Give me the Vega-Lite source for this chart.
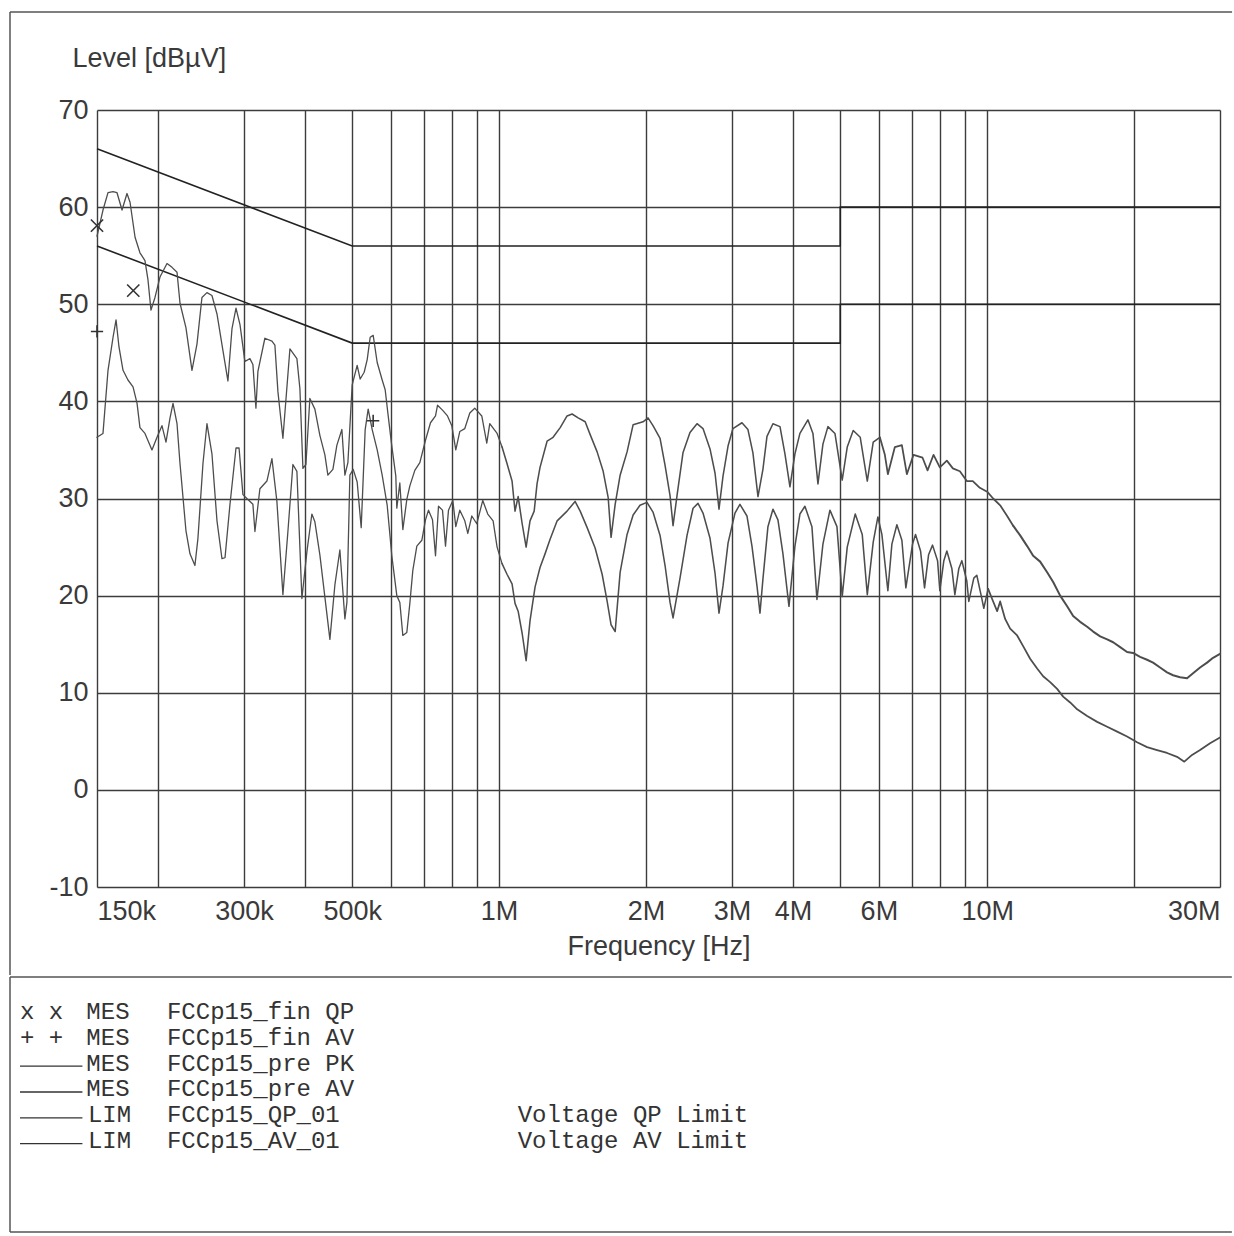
{
"$schema": "https://vega.github.io/schema/vega-lite/v6.json",
"padding": {"left": 9, "top": 11, "right": 0, "bottom": 0},
"spacing": 0,
"config": {"view": {"stroke": null}, "font": "Liberation Sans"},
"datasets": {
"pk": [
{"f":150,"v":57.0,"s":"a"},{"f":154.3,"v":59.7,"s":"a"},{"f":158,"v":61.5,"s":"a"},{"f":161.8,"v":61.6,"s":"a"},{"f":164.8,"v":61.5,"s":"a"},{"f":168.8,"v":59.7,"s":"a"},{"f":172.8,"v":61.4,"s":"a"},{"f":175.3,"v":60.5,"s":"a"},{"f":179.5,"v":56.9,"s":"a"},{"f":183.7,"v":55.3,"s":"a"},{"f":188.1,"v":54.5,"s":"a"},{"f":190.8,"v":52.5,"s":"a"},{"f":193.5,"v":49.4,"s":"a"},{"f":197.2,"v":50.7,"s":"a"},{"f":201.9,"v":52.8,"s":"a"},{"f":208.7,"v":54.2,"s":"a"},{"f":213.7,"v":53.8,"s":"a"},{"f":218.8,"v":53.3,"s":"a"},{"f":221.9,"v":50.1,"s":"a"},{"f":228.2,"v":47.6,"s":"a"},{"f":234.8,"v":43.2,"s":"a"},{"f":240.4,"v":45.9,"s":"a"},{"f":246.1,"v":50.7,"s":"a"},{"f":252,"v":51.2,"s":"a"},{"f":258,"v":50.9,"s":"a"},{"f":264.2,"v":49.0,"s":"a"},{"f":271.8,"v":45.2,"s":"a"},{"f":278.2,"v":42.1,"s":"a"},{"f":283.6,"v":47.5,"s":"a"},{"f":289,"v":49.6,"s":"a"},{"f":294.5,"v":47.9,"s":"a"},{"f":301.4,"v":44.1,"s":"a"},{"f":308.6,"v":44.4,"s":"a"},{"f":313,"v":43.8,"s":"a"},{"f":317.5,"v":39.3,"s":"a"},{"f":320.5,"v":43.1,"s":"a"},{"f":331.2,"v":46.5,"s":"a"},{"f":342.4,"v":46.2,"s":"a"},{"f":347.2,"v":45.8,"s":"a"},{"f":352.2,"v":41.0,"s":"a"},{"f":360.6,"v":36.2,"s":"a"},{"f":372.7,"v":45.4,"s":"a"},{"f":385.2,"v":44.4,"s":"a"},{"f":390.7,"v":41.3,"s":"a"},{"f":396.3,"v":33.1,"s":"a"},{"f":401.9,"v":33.5,"s":"a"},{"f":409.5,"v":40.3,"s":"a"},{"f":419.3,"v":39.2,"s":"a"},{"f":429.3,"v":36.5,"s":"a"},{"f":439.6,"v":34.5,"s":"a"},{"f":445.8,"v":32.4,"s":"a"},{"f":456.5,"v":33.0,"s":"a"},{"f":465.2,"v":35.5,"s":"a"},{"f":476.3,"v":37.1,"s":"a"},{"f":483.1,"v":32.4,"s":"a"},{"f":490,"v":33.7,"s":"a"},{"f":500,"v":41.7,"s":"a"},{"f":511.9,"v":43.7,"s":"a"},{"f":519.2,"v":42.3,"s":"a"},{"f":529.1,"v":43.0,"s":"a"},{"f":536.7,"v":44.3,"s":"a"},{"f":544.3,"v":46.6,"s":"a"},{"f":552.1,"v":46.8,"s":"a"},{"f":562.6,"v":44.0,"s":"a"},{"f":576,"v":42.2,"s":"a"},{"f":584.2,"v":41.2,"s":"a"},{"f":592.6,"v":38.5,"s":"a"},{"f":602.8,"v":35.4,"s":"a"},{"f":614.3,"v":32.3,"s":"a"},{"f":617.2,"v":29.0,"s":"a"},{"f":626,"v":31.6,"s":"a"},{"f":635,"v":26.8,"s":"a"},{"f":647,"v":29.9,"s":"a"},{"f":656.3,"v":31.3,"s":"a"},{"f":671.9,"v":32.9,"s":"a"},{"f":688,"v":33.7,"s":"a"},{"f":706.6,"v":36.0,"s":"a"},{"f":723.5,"v":37.8,"s":"a"},{"f":740.8,"v":38.5,"s":"a"},{"f":747.8,"v":39.6,"s":"a"},{"f":765.6,"v":39.1,"s":"a"},{"f":783.9,"v":38.5,"s":"a"},{"f":800,"v":37.5,"s":"a"},{"f":815.2,"v":35.0,"s":"a"},{"f":830.8,"v":36.9,"s":"a"},{"f":850.6,"v":37.2,"s":"a"},{"f":870.9,"v":38.8,"s":"a"},{"f":891.5,"v":39.3,"s":"a"},{"f":921.5,"v":38.5,"s":"a"},{"f":943.5,"v":35.7,"s":"a"},{"f":956.9,"v":37.7,"s":"a"},{"f":990.6,"v":36.7,"s":"a"},{"f":1014,"v":35.3,"s":"a"},
{"f":1014,"v":35.3,"s":"b"},{"f":1038,"v":33.6,"s":"b"},{"f":1063,"v":31.8,"s":"b"},{"f":1078,"v":28.7,"s":"b"},{"f":1094,"v":30.2,"s":"b"},{"f":1115,"v":27.4,"s":"b"},{"f":1136,"v":25.0,"s":"b"},{"f":1157,"v":27.7,"s":"b"},{"f":1180,"v":28.7,"s":"b"},{"f":1196,"v":31.5,"s":"b"},{"f":1213,"v":33.2,"s":"b"},{"f":1254,"v":35.9,"s":"b"},{"f":1290,"v":36.3,"s":"b"},{"f":1334,"v":37.3,"s":"b"},{"f":1378,"v":38.5,"s":"b"},{"f":1411,"v":38.7,"s":"b"},{"f":1452,"v":38.3,"s":"b"},{"f":1501,"v":37.9,"s":"b"},{"f":1536,"v":36.6,"s":"b"},{"f":1588,"v":34.8,"s":"b"},{"f":1634,"v":32.8,"s":"b"},{"f":1673,"v":30.1,"s":"b"},{"f":1696,"v":26.0,"s":"b"},{"f":1729,"v":29.4,"s":"b"},{"f":1770,"v":32.4,"s":"b"},{"f":1829,"v":34.8,"s":"b"},{"f":1882,"v":37.6,"s":"b"},{"f":1972,"v":37.9,"s":"b"},{"f":2019,"v":38.3,"s":"b"},{"f":2067,"v":37.5,"s":"b"},{"f":2137,"v":36.2,"s":"b"},{"f":2188,"v":33.4,"s":"b"},{"f":2240,"v":30.3,"s":"b"},{"f":2272,"v":27.2,"s":"b"},{"f":2315,"v":30.3,"s":"b"},{"f":2381,"v":34.7,"s":"b"},{"f":2461,"v":36.8,"s":"b"},{"f":2544,"v":37.7,"s":"b"},{"f":2617,"v":37.2,"s":"b"},{"f":2705,"v":35.1,"s":"b"},{"f":2770,"v":32.6,"s":"b"},{"f":2822,"v":28.9,"s":"b"},{"f":2876,"v":32.3,"s":"b"},{"f":2945,"v":35.4,"s":"b"},{"f":3014,"v":37.2,"s":"b"},{"f":3145,"v":37.8,"s":"b"},{"f":3235,"v":37.1,"s":"b"},{"f":3312,"v":34.7,"s":"b"},{"f":3392,"v":30.2,"s":"b"},{"f":3472,"v":33.0,"s":"b"},{"f":3539,"v":36.4,"s":"b"},{"f":3640,"v":37.7,"s":"b"},{"f":3763,"v":37.4,"s":"b"},{"f":3852,"v":34.6,"s":"b"},{"f":3944,"v":31.2,"s":"b"},{"f":4038,"v":34.6,"s":"b"},{"f":4134,"v":36.7,"s":"b"},{"f":4293,"v":38.1,"s":"b"},{"f":4396,"v":36.7,"s":"b"},{"f":4501,"v":31.5,"s":"b"},{"f":4608,"v":35.6,"s":"b"},{"f":4718,"v":37.4,"s":"b"},{"f":4877,"v":36.7,"s":"b"},{"f":5047,"v":31.9,"s":"b"},{"f":5168,"v":35.3,"s":"b"},{"f":5316,"v":37.0,"s":"b"},{"f":5495,"v":36.3,"s":"b"},{"f":5681,"v":31.8,"s":"b"},{"f":5842,"v":35.8,"s":"b"},{"f":6028,"v":36.3,"s":"b"},
{"f":6028,"v":36.3,"s":"c"},{"f":6172,"v":34.5,"s":"c"},{"f":6260,"v":32.5,"s":"c"},{"f":6470,"v":35.3,"s":"c"},{"f":6688,"v":35.5,"s":"c"},{"f":6847,"v":32.5,"s":"c"},{"f":7066,"v":34.5,"s":"c"},{"f":7373,"v":34.2,"s":"c"},{"f":7549,"v":32.9,"s":"c"},{"f":7766,"v":34.5,"s":"c"},{"f":8000,"v":33.2,"s":"c"},{"f":8269,"v":33.9,"s":"c"},{"f":8506,"v":33.1,"s":"c"},{"f":8792,"v":32.8,"s":"c"},{"f":9085,"v":31.8,"s":"c"},{"f":9346,"v":31.8,"s":"c"},{"f":9660,"v":31.1,"s":"c"},{"f":10000,"v":30.7,"s":"c"},{"f":10287,"v":30.0,"s":"c"},{"f":10633,"v":29.3,"s":"c"},{"f":10990,"v":28.2,"s":"c"},{"f":11305,"v":27.2,"s":"c"},
{"f":11305,"v":27.2,"s":"d"},{"f":11685,"v":26.2,"s":"d"},{"f":12077,"v":25.1,"s":"d"},{"f":12424,"v":24.1,"s":"d"},{"f":12841,"v":23.5,"s":"d"},{"f":13271,"v":22.4,"s":"d"},{"f":13654,"v":21.4,"s":"d"},{"f":14112,"v":20.0,"s":"d"},{"f":14584,"v":18.9,"s":"d"},{"f":15005,"v":17.9,"s":"d"},{"f":15508,"v":17.3,"s":"d"},{"f":16029,"v":16.8,"s":"d"},{"f":16490,"v":16.3,"s":"d"},{"f":17044,"v":15.8,"s":"d"},{"f":17617,"v":15.5,"s":"d"},{"f":18120,"v":15.2,"s":"d"},{"f":18730,"v":14.7,"s":"d"},{"f":19350,"v":14.2,"s":"d"},{"f":19906,"v":14.1,"s":"d"},{"f":20574,"v":13.7,"s":"d"},{"f":21265,"v":13.4,"s":"d"},{"f":21876,"v":13.1,"s":"d"},{"f":22610,"v":12.6,"s":"d"},{"f":23369,"v":12.1,"s":"d"},{"f":24040,"v":11.8,"s":"d"},{"f":24848,"v":11.6,"s":"d"},{"f":25682,"v":11.5,"s":"d"},{"f":26420,"v":12.0,"s":"d"},{"f":27308,"v":12.6,"s":"d"},{"f":28224,"v":13.1,"s":"d"},{"f":29034,"v":13.6,"s":"d"},{"f":30000,"v":14.0,"s":"d"}
],
"av": [
{"f":150,"v":36.3,"s":"a"},{"f":154.3,"v":36.7,"s":"a"},{"f":158,"v":43.2,"s":"a"},{"f":161.8,"v":46.6,"s":"a"},{"f":164.1,"v":48.4,"s":"a"},{"f":166.4,"v":45.6,"s":"a"},{"f":169.6,"v":43.2,"s":"a"},{"f":173.6,"v":42.2,"s":"a"},{"f":177.8,"v":41.5,"s":"a"},{"f":181.2,"v":39.8,"s":"a"},{"f":183.7,"v":37.3,"s":"a"},{"f":188.1,"v":36.7,"s":"a"},{"f":194.4,"v":35.0,"s":"a"},{"f":199.1,"v":36.3,"s":"a"},{"f":203.8,"v":37.5,"s":"a"},{"f":207.7,"v":35.8,"s":"a"},{"f":211.7,"v":38.3,"s":"a"},{"f":214.7,"v":39.8,"s":"a"},{"f":218.8,"v":37.7,"s":"a"},{"f":221.9,"v":33.6,"s":"a"},{"f":228.2,"v":26.7,"s":"a"},{"f":232.6,"v":24.3,"s":"a"},{"f":238.1,"v":23.1,"s":"a"},{"f":241.5,"v":25.9,"s":"a"},{"f":247.3,"v":33.6,"s":"a"},{"f":252,"v":37.7,"s":"a"},{"f":258,"v":34.6,"s":"a"},{"f":264.2,"v":27.7,"s":"a"},{"f":270.5,"v":23.8,"s":"a"},{"f":274.4,"v":23.9,"s":"a"},{"f":280.9,"v":29.4,"s":"a"},{"f":289,"v":35.2,"s":"a"},{"f":293.2,"v":35.2,"s":"a"},{"f":298.6,"v":30.4,"s":"a"},{"f":305.7,"v":29.9,"s":"a"},{"f":313,"v":29.4,"s":"a"},{"f":316,"v":26.6,"s":"a"},{"f":323.5,"v":31.0,"s":"a"},{"f":334.4,"v":31.8,"s":"a"},{"f":342.4,"v":34.1,"s":"a"},{"f":350.5,"v":29.7,"s":"a"},{"f":360.6,"v":20.1,"s":"a"},{"f":369.2,"v":26.6,"s":"a"},{"f":378,"v":33.5,"s":"a"},{"f":385.2,"v":32.8,"s":"a"},{"f":394.4,"v":19.7,"s":"a"},{"f":403.8,"v":24.5,"s":"a"},{"f":413.4,"v":28.4,"s":"a"},{"f":419.3,"v":27.6,"s":"a"},{"f":429.3,"v":24.2,"s":"a"},{"f":450.1,"v":15.5,"s":"a"},{"f":460.8,"v":21.1,"s":"a"},{"f":471.8,"v":24.7,"s":"a"},{"f":483.1,"v":17.6,"s":"a"},{"f":487.7,"v":19.3,"s":"a"},{"f":494.6,"v":32.4,"s":"a"},{"f":502.4,"v":33.0,"s":"a"},{"f":511.9,"v":31.7,"s":"a"},{"f":521.7,"v":27.0,"s":"a"},{"f":531.6,"v":37.1,"s":"a"},{"f":539.2,"v":39.2,"s":"a"},{"f":549.5,"v":37.1,"s":"a"},{"f":562.6,"v":35.0,"s":"a"},{"f":576,"v":32.4,"s":"a"},{"f":589.8,"v":29.3,"s":"a"},{"f":602.8,"v":24.1,"s":"a"},{"f":617.2,"v":20.0,"s":"a"},{"f":626,"v":19.3,"s":"a"},{"f":635,"v":15.9,"s":"a"},{"f":647,"v":16.2,"s":"a"},{"f":656.3,"v":19.2,"s":"a"},{"f":665.6,"v":22.6,"s":"a"},{"f":678.3,"v":25.1,"s":"a"},{"f":694.5,"v":25.7,"s":"a"},{"f":706.6,"v":27.8,"s":"a"},{"f":716.7,"v":28.8,"s":"a"},{"f":730.4,"v":27.8,"s":"a"},{"f":740.8,"v":24.1,"s":"a"},{"f":751.3,"v":29.2,"s":"a"},{"f":765.6,"v":28.8,"s":"a"},{"f":776.6,"v":25.1,"s":"a"},{"f":787.6,"v":28.8,"s":"a"},{"f":803.8,"v":29.8,"s":"a"},{"f":815.2,"v":27.1,"s":"a"},{"f":830.8,"v":28.8,"s":"a"},{"f":850.6,"v":27.7,"s":"a"},{"f":862.7,"v":26.4,"s":"a"},{"f":879.2,"v":28.2,"s":"a"},{"f":900,"v":27.4,"s":"a"},{"f":925.8,"v":29.8,"s":"a"},{"f":947.9,"v":28.4,"s":"a"},{"f":972.1,"v":27.7,"s":"a"},{"f":990.6,"v":25.0,"s":"a"},{"f":1014,"v":23.3,"s":"a"},
{"f":1014,"v":23.3,"s":"b"},{"f":1038,"v":22.2,"s":"b"},{"f":1063,"v":21.2,"s":"b"},{"f":1078,"v":19.2,"s":"b"},{"f":1094,"v":18.4,"s":"b"},{"f":1115,"v":16.1,"s":"b"},{"f":1136,"v":13.3,"s":"b"},{"f":1157,"v":17.4,"s":"b"},{"f":1185,"v":20.9,"s":"b"},{"f":1213,"v":22.9,"s":"b"},{"f":1242,"v":24.3,"s":"b"},{"f":1272,"v":25.8,"s":"b"},{"f":1315,"v":27.7,"s":"b"},{"f":1378,"v":28.7,"s":"b"},{"f":1431,"v":29.7,"s":"b"},{"f":1466,"v":28.7,"s":"b"},{"f":1515,"v":27.0,"s":"b"},{"f":1573,"v":24.9,"s":"b"},{"f":1626,"v":22.2,"s":"b"},{"f":1665,"v":19.4,"s":"b"},{"f":1696,"v":17.0,"s":"b"},{"f":1729,"v":16.3,"s":"b"},{"f":1770,"v":22.4,"s":"b"},{"f":1829,"v":26.3,"s":"b"},{"f":1882,"v":28.3,"s":"b"},{"f":1944,"v":29.3,"s":"b"},{"f":2009,"v":29.6,"s":"b"},{"f":2067,"v":28.6,"s":"b"},{"f":2137,"v":26.2,"s":"b"},{"f":2188,"v":23.1,"s":"b"},{"f":2240,"v":19.3,"s":"b"},{"f":2272,"v":17.7,"s":"b"},{"f":2348,"v":21.8,"s":"b"},{"f":2427,"v":26.2,"s":"b"},{"f":2497,"v":29.0,"s":"b"},{"f":2556,"v":29.5,"s":"b"},{"f":2617,"v":28.5,"s":"b"},{"f":2705,"v":25.9,"s":"b"},{"f":2770,"v":22.3,"s":"b"},{"f":2822,"v":18.2,"s":"b"},{"f":2876,"v":21.0,"s":"b"},{"f":2945,"v":25.4,"s":"b"},{"f":3043,"v":28.5,"s":"b"},{"f":3115,"v":29.4,"s":"b"},{"f":3220,"v":28.2,"s":"b"},{"f":3297,"v":25.1,"s":"b"},{"f":3376,"v":21.0,"s":"b"},{"f":3424,"v":18.2,"s":"b"},{"f":3472,"v":21.7,"s":"b"},{"f":3555,"v":27.1,"s":"b"},{"f":3640,"v":28.9,"s":"b"},{"f":3727,"v":27.8,"s":"b"},{"f":3816,"v":24.3,"s":"b"},{"f":3926,"v":18.9,"s":"b"},{"f":4038,"v":25.1,"s":"b"},{"f":4134,"v":28.4,"s":"b"},{"f":4233,"v":29.2,"s":"b"},{"f":4375,"v":27.1,"s":"b"},{"f":4480,"v":19.6,"s":"b"},{"f":4608,"v":25.3,"s":"b"},{"f":4763,"v":28.8,"s":"b"},{"f":4923,"v":27.1,"s":"b"},{"f":5047,"v":19.9,"s":"b"},{"f":5168,"v":25.0,"s":"b"},{"f":5367,"v":28.4,"s":"b"},{"f":5547,"v":26.3,"s":"b"},{"f":5681,"v":20.1,"s":"b"},{"f":5842,"v":25.5,"s":"b"},{"f":5972,"v":28.1,"s":"b"},{"f":6086,"v":26.3,"s":"b"},{"f":6260,"v":20.5,"s":"b"},{"f":6380,"v":25.3,"s":"b"},{"f":6532,"v":27.3,"s":"b"},{"f":6688,"v":25.7,"s":"b"},{"f":6815,"v":20.8,"s":"b"},{"f":7033,"v":25.3,"s":"b"},{"f":7133,"v":26.3,"s":"b"},{"f":7304,"v":24.6,"s":"b"},{"f":7443,"v":20.8,"s":"b"},{"f":7585,"v":24.2,"s":"b"},{"f":7729,"v":25.2,"s":"b"},{"f":7914,"v":23.6,"s":"b"},{"f":8000,"v":20.5,"s":"b"},{"f":8152,"v":23.6,"s":"b"},{"f":8269,"v":24.6,"s":"b"},{"f":8466,"v":22.8,"s":"b"},{"f":8587,"v":20.1,"s":"b"},{"f":8750,"v":22.8,"s":"b"},{"f":8875,"v":23.6,"s":"b"},{"f":9085,"v":21.5,"s":"b"},{"f":9171,"v":19.4,"s":"b"},{"f":9390,"v":21.8,"s":"b"},{"f":9524,"v":22.1,"s":"b"},{"f":9752,"v":19.7,"s":"b"},{"f":9844,"v":18.7,"s":"b"},{"f":10047,"v":20.7,"s":"b"},
{"f":10047,"v":20.7,"s":"c"},{"f":10287,"v":19.4,"s":"c"},{"f":10483,"v":18.4,"s":"c"},{"f":10633,"v":19.4,"s":"c"},{"f":10886,"v":17.6,"s":"c"},{"f":11146,"v":16.6,"s":"c"},{"f":11520,"v":15.9,"s":"c"},{"f":11851,"v":14.8,"s":"c"},{"f":12249,"v":13.5,"s":"c"},{"f":12660,"v":12.5,"s":"c"},{"f":13024,"v":11.7,"s":"c"},{"f":13462,"v":11.1,"s":"c"},{"f":13912,"v":10.4,"s":"c"},{"f":14313,"v":9.6,"s":"c"},{"f":14794,"v":9.0,"s":"c"},{"f":15291,"v":8.3,"s":"c"},{"f":16029,"v":7.6,"s":"c"},{"f":16804,"v":7.0,"s":"c"},{"f":17617,"v":6.5,"s":"c"},{"f":18468,"v":6.0,"s":"c"},{"f":19350,"v":5.5,"s":"c"},{"f":20285,"v":4.9,"s":"c"},{"f":21265,"v":4.4,"s":"c"},{"f":22292,"v":4.1,"s":"c"},{"f":23369,"v":3.8,"s":"c"},{"f":24497,"v":3.4,"s":"c"},{"f":25350,"v":2.9,"s":"c"},{"f":26296,"v":3.6,"s":"c"},{"f":27308,"v":4.1,"s":"c"},{"f":28626,"v":4.8,"s":"c"},{"f":30000,"v":5.4,"s":"c"}
],
"lim": [
{"f":150,"v":66,"lim":"QP","i":0},{"f":500,"v":56,"lim":"QP","i":1},{"f":5000,"v":56,"lim":"QP","i":2},{"f":5000,"v":60,"lim":"QP","i":3},{"f":30000,"v":60,"lim":"QP","i":4},
{"f":150,"v":56,"lim":"AV","i":0},{"f":500,"v":46,"lim":"AV","i":1},{"f":5000,"v":46,"lim":"AV","i":2},{"f":5000,"v":50,"lim":"AV","i":3},{"f":30000,"v":50,"lim":"AV","i":4}
],
"fin": [
{"f":150,"v":58.1,"m":"QP"},{"f":178,"v":51.4,"m":"QP"},
{"f":150,"v":47.2,"m":"AV"},{"f":552,"v":38.0,"m":"AV"}
],
"frame": [
{"f":99.5,"v":80.1,"f2":31760,"v2":80.1},
{"f":99.5,"v":80.1,"f2":99.5,"v2":-19.06}
],
"legtext": [
{"c":0,"r":0,"t":"x x"},{"c":4.2,"r":0,"t":"MES"},{"c":9.3,"r":0,"t":"FCCp15_fin QP"},
{"c":0,"r":1,"t":"+ +"},{"c":4.2,"r":1,"t":"MES"},{"c":9.3,"r":1,"t":"FCCp15_fin AV"},
{"c":4.2,"r":2,"t":"MES"},{"c":9.3,"r":2,"t":"FCCp15_pre PK"},
{"c":4.2,"r":3,"t":"MES"},{"c":9.3,"r":3,"t":"FCCp15_pre AV"},
{"c":4.3,"r":4,"t":"LIM"},{"c":9.3,"r":4,"t":"FCCp15_QP_01"},{"c":31.5,"r":4,"t":"Voltage QP Limit"},
{"c":4.3,"r":5,"t":"LIM"},{"c":9.3,"r":5,"t":"FCCp15_AV_01"},{"c":31.5,"r":5,"t":"Voltage AV Limit"}
],
"legline": [
{"c":0,"c2":3.95,"r":2.1,"r2":2.1},{"c":0,"c2":3.95,"r":3.1,"r2":3.1},{"c":0,"c2":3.95,"r":4.1,"r2":4.1},{"c":0,"c2":3.95,"r":5.1,"r2":5.1}
],
"legframe": [
{"c":-0.633,"c2":76.7,"r":-1.3566,"r2":-1.3566},
{"c":-0.633,"c2":-0.633,"r":-1.3566,"r2":8.527},
{"c":-0.633,"c2":76.7,"r":8.527,"r2":8.527}
]
},
"vconcat": [
{
"width": 1123,
"height": 777,
"encoding": {
"x": {"field": "f", "type": "quantitative",
"scale": {"type": "log", "domain": [150, 30000], "nice": false},
"axis": {
"values": [150,200,300,400,500,600,700,800,900,1000,2000,3000,4000,5000,6000,7000,8000,9000,10000,20000,30000],
"labelExpr": "indexof([150,300,500,1000,2000,3000,4000,6000,10000,30000], datum.value) >= 0 ? (datum.value >= 1000 ? (datum.value/1000) + 'M' : datum.value + 'k') : ''",
"grid": true, "gridColor": "#3c3c3c", "gridWidth": 1.4, "gridOpacity": 1,
"ticks": false, "domain": false,
"labelFont": "Liberation Sans", "labelFontSize": 27, "labelColor": "#3a3a3a", "labelPadding": 11,
"labelFlush": true, "labelOverlap": false,
"title": "Frequency [Hz]", "titleFont": "Liberation Sans", "titleFontSize": 27, "titleFontWeight": "normal", "titleColor": "#3a3a3a", "titlePadding": 9
}},
"y": {"field": "v", "type": "quantitative",
"scale": {"domain": [-10, 70], "nice": false, "zero": false},
"axis": {
"values": [-10,0,10,20,30,40,50,60,70],
"labelExpr": "datum.value < 0 ? '-' + abs(datum.value) : '' + datum.value",
"grid": true, "gridColor": "#3c3c3c", "gridWidth": 1.4, "gridOpacity": 1,
"ticks": false, "domain": false,
"labelFont": "Liberation Sans", "labelFontSize": 27, "labelColor": "#3a3a3a", "labelPadding": 9,
"title": "Level [dBµV]", "titleFont": "Liberation Sans", "titleFontSize": 27, "titleFontWeight": "normal", "titleColor": "#3a3a3a",
"titleAngle": 0, "titleAlign": "left", "titleBaseline": "middle", "titleX": -25, "titleY": -52
}}
},
"layer": [
{"data": {"name": "frame"}, "mark": {"type": "rule", "color": "#555555", "strokeWidth": 1.5},
"encoding": {"x2": {"field": "f2"}, "y2": {"field": "v2"}}},
{"data": {"name": "lim"}, "mark": {"type": "line", "color": "#222222", "strokeWidth": 1.6},
"encoding": {"detail": {"field": "lim", "type": "nominal"}, "order": {"field": "i", "type": "quantitative"}}},
{"data": {"name": "av"}, "mark": {"type": "line", "color": "#4d4d4d", "strokeJoin": "round", "strokeCap": "round"},
"encoding": {"strokeWidth": {"field": "s", "type": "nominal", "scale": {"domain": ["a","b","c","d"], "range": [1.3, 2, 3.5, 6.5]}, "legend": null}}},
{"data": {"name": "pk"}, "mark": {"type": "line", "color": "#4d4d4d", "strokeJoin": "round", "strokeCap": "round"},
"encoding": {"strokeWidth": {"field": "s", "type": "nominal", "scale": {"domain": ["a","b","c","d"], "range": [1.3, 2, 3.5, 6.5]}, "legend": null}}},
{"data": {"name": "fin"}, "mark": {"type": "point", "filled": false, "stroke": "#333333", "strokeWidth": 1.6, "size": 150, "opacity": 1},
"encoding": {"shape": {"field": "m", "type": "nominal", "scale": {"domain": ["QP","AV"], "range": ["M-1,-1L1,1M-1,1L1,-1", "M-1,0L1,0M0,-1L0,1"]}, "legend": null}}}
]
},
{
"width": 1123,
"height": 255,
"encoding": {
"x": {"field": "c", "type": "quantitative", "scale": {"domain": [4.873, 75.95], "nice": false, "zero": false}, "axis": null},
"y": {"field": "r", "type": "quantitative", "scale": {"domain": [-1.3566, 8.527], "nice": false, "zero": false, "reverse": true}, "axis": null}
},
"layer": [
{"data": {"name": "legframe"}, "mark": {"type": "rule", "color": "#555555", "strokeWidth": 1.5},
"encoding": {"x2": {"field": "c2"}, "y2": {"field": "r2"}}},
{"data": {"name": "legline"}, "mark": {"type": "rule", "color": "#333333", "strokeWidth": 1.3},
"encoding": {"x2": {"field": "c2"}, "y2": {"field": "r2"}}},
{"data": {"name": "legtext"}, "mark": {"type": "text", "align": "left", "baseline": "middle", "font": "Liberation Mono", "fontSize": 24, "color": "#333333"},
"encoding": {"text": {"field": "t", "type": "nominal"}}}
]
}
]
}
